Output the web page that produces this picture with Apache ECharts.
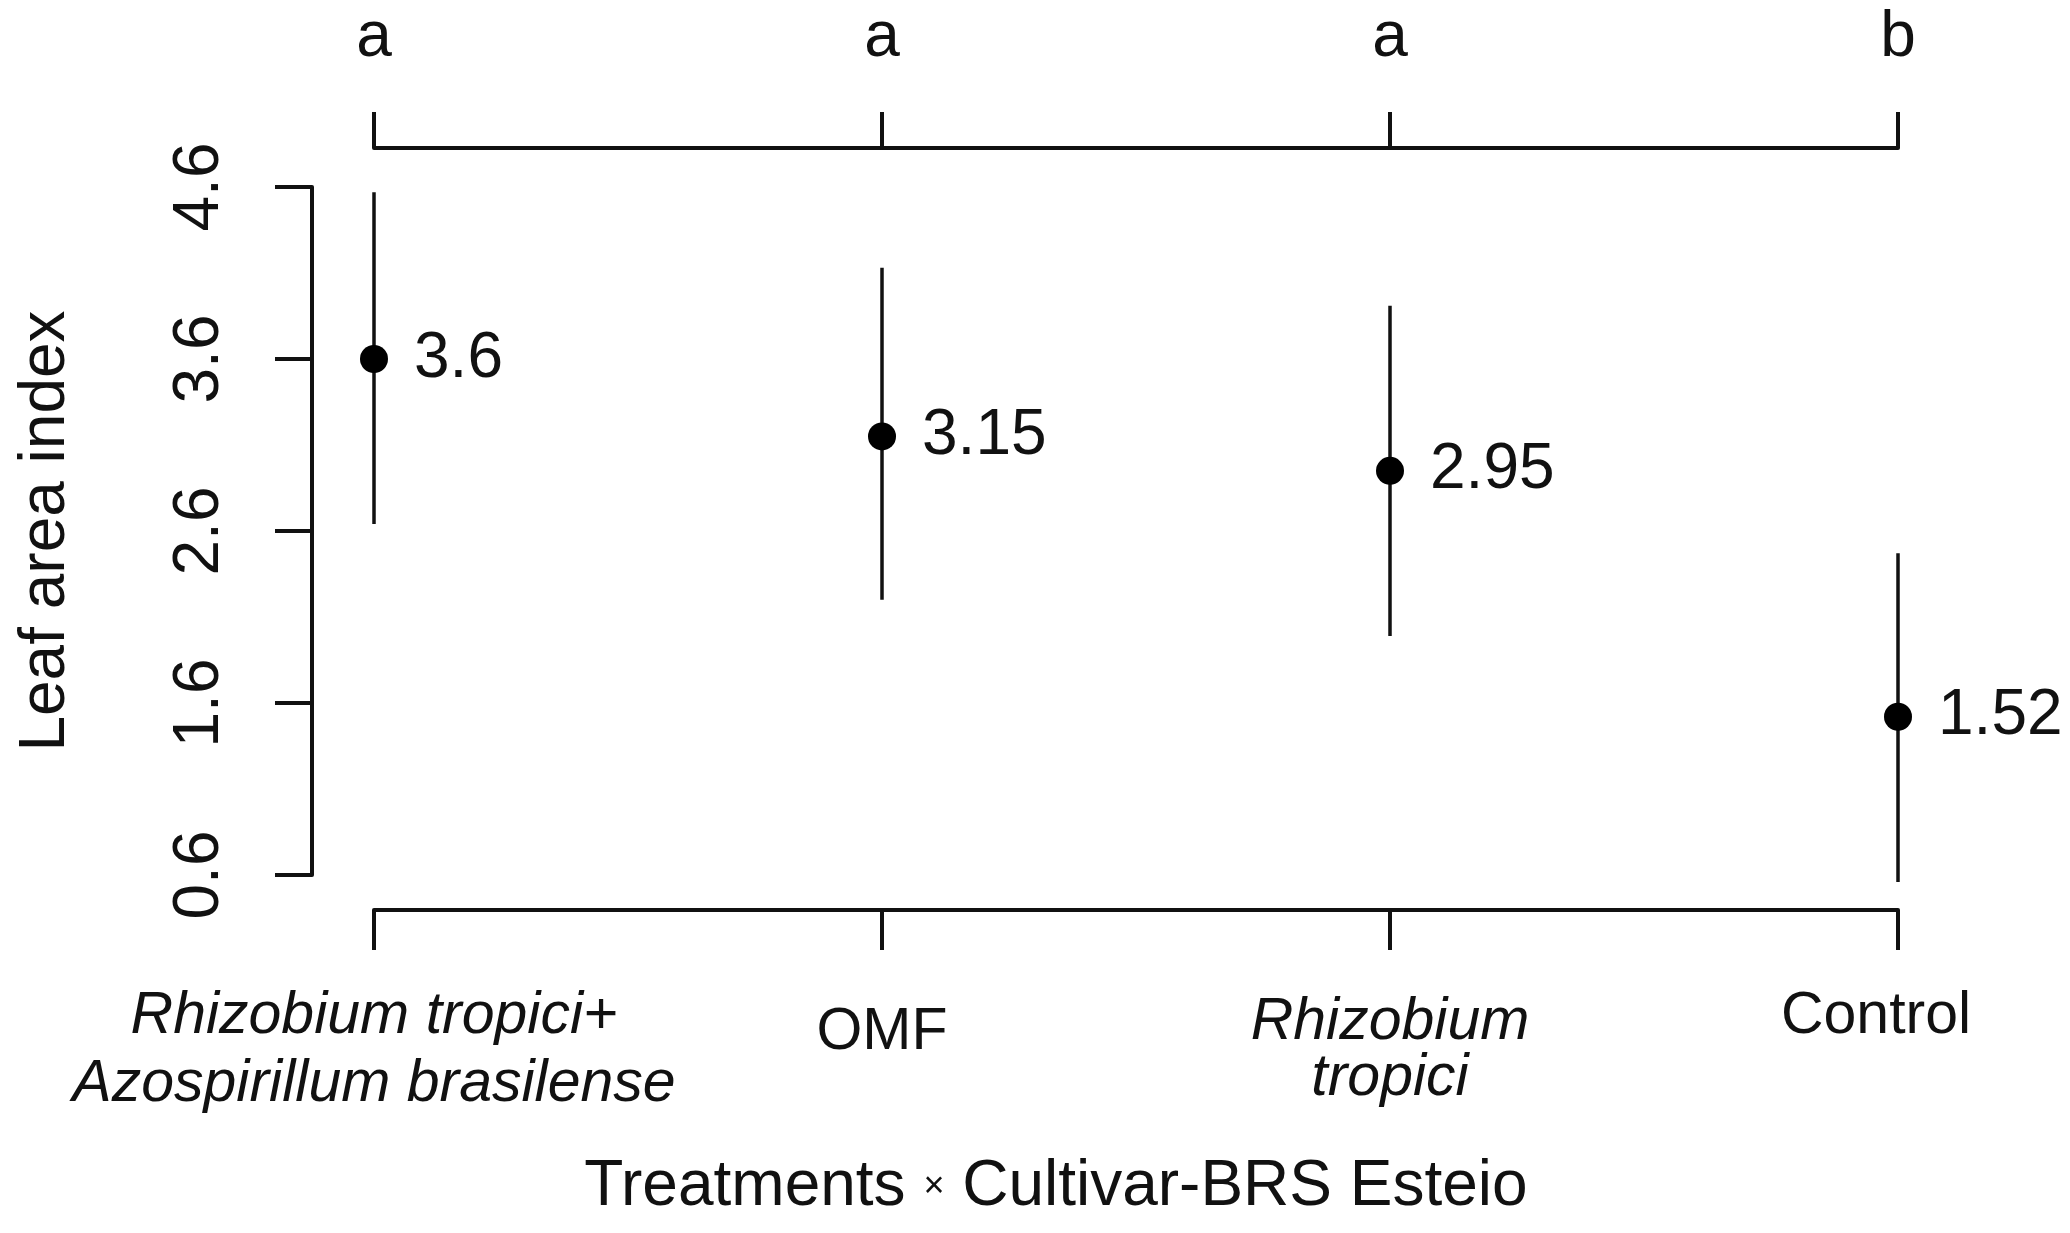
<!DOCTYPE html>
<html>
<head>
<meta charset="utf-8">
<title>Leaf area index</title>
<script src="https://cdn.jsdelivr.net/npm/echarts@6/dist/echarts.min.js"></script>
<style>
    html, body {
        margin: 0;
        padding: 0;
        background: #fff;
    }

    #chart {
        width: 2070px;
        height: 1233px;
    }
</style>
</head>
<body>
<div id="chart"></div>
<script>
// treatments on the bottom axis, letters from the mean comparison on the top axis
const treatments = ['Rhizobium tropici+\nAzospirillum brasilense', 'OMF', 'Rhizobium\ntropici', 'Control']
const letters = ['a', 'a', 'a', 'b']
const means = [3.6, 3.15, 2.95, 1.52]
const upper = [4.57, 4.13, 3.91, 2.47]
const lower = [2.64, 2.2, 1.99, 0.56]
const yTicks = { min: 0.6, max: 4.6, step: 1 }

const ink = '#111'
const font = 'Liberation Sans, Arial, sans-serif'
const fs = 64
const catFs = 59

// rich style keys, one per line of each treatment label
const lineStyles = [['t1', 't1'], ['om'], ['t3a', 't3b'], ['ct']]

const chart = echarts.init(document.getElementById('chart'))

const axisLine = { show: true, lineStyle: { color: ink, width: 4 } }

chart.setOption({
    backgroundColor: '#fff',
    animation: false,
    grid: [
        // frame for the top and bottom axes
        { left: 374, right: 172, top: 148, bottom: 323 },
        // frame for the data and the y axis
        { left: 374, right: 172, top: 187, bottom: 358 }
    ],
    xAxis: [
        {
            gridIndex: 0,
            type: 'value',
            position: 'bottom',
            min: 1,
            max: treatments.length,
            interval: 1,
            axisLine,
            axisTick: { show: true, length: 40, lineStyle: { color: ink, width: 4 } },
            splitLine: { show: false },
            axisLabel: {
                margin: 73,
                color: ink,
                fontFamily: font,
                fontSize: catFs,
                formatter: (v) => {
                    const i = Math.round(v) - 1
                    return treatments[i].split('\n').map((s, k) => '{' + lineStyles[i][k] + '|' + s + '}').join('\n')
                },
                rich: {
                    t1: { fontStyle: 'italic', fontFamily: font, fontSize: catFs, lineHeight: 68, color: ink },
                    om: { fontFamily: font, fontSize: catFs, lineHeight: 100, color: ink },
                    t3a: { fontStyle: 'italic', fontFamily: font, fontSize: catFs, lineHeight: 80, color: ink },
                    t3b: { fontStyle: 'italic', fontFamily: font, fontSize: catFs, lineHeight: 32, color: ink },
                    ct: { fontFamily: font, fontSize: catFs, lineHeight: 68, color: ink, padding: [0, 44, 0, 0] }
                }
            },
            name: '{n|Treatments }{x|×}{n| Cultivar-BRS Esteio}',
            nameLocation: 'middle',
            nameGap: 245,
            nameTextStyle: {
                color: ink,
                fontFamily: font,
                fontSize: fs,
                padding: [0, 160, 0, 0],
                rich: {
                    n: { fontFamily: font, fontSize: fs, color: ink },
                    x: { fontFamily: font, fontSize: 36, color: ink }
                }
            }
        },
        {
            gridIndex: 0,
            type: 'value',
            position: 'top',
            min: 1,
            max: letters.length,
            interval: 1,
            axisLine,
            axisTick: { show: true, length: 36, lineStyle: { color: ink, width: 4 } },
            splitLine: { show: false },
            axisLabel: {
                margin: 78,
                color: ink,
                fontFamily: font,
                fontSize: fs,
                formatter: (v) => letters[Math.round(v) - 1]
            }
        },
        {
            gridIndex: 1,
            type: 'value',
            show: false,
            min: 1,
            max: treatments.length
        }
    ],
    yAxis: [
        { gridIndex: 0, type: 'value', show: false, min: 0, max: 1 },
        {
            gridIndex: 1,
            type: 'value',
            min: yTicks.min,
            max: yTicks.max,
            interval: yTicks.step,
            offset: 62,
            axisLine,
            axisTick: { show: true, length: 37, lineStyle: { color: ink, width: 4 } },
            splitLine: { show: false },
            axisLabel: {
                rotate: 90,
                margin: 80,
                color: ink,
                fontFamily: font,
                fontSize: fs,
                formatter: (v) => v.toFixed(1)
            },
            name: 'Leaf area index',
            nameLocation: 'middle',
            nameGap: 234,
            nameTextStyle: { color: ink, fontFamily: font, fontSize: fs }
        }
    ],
    series: [
        {
            type: 'custom',
            xAxisIndex: 2,
            yAxisIndex: 1,
            clip: false,
            data: means.map((m, i) => [i + 1, lower[i], upper[i]]),
            renderItem: (params, api) => {
                const a = api.coord([api.value(0), api.value(1)])
                const b = api.coord([api.value(0), api.value(2)])
                return {
                    type: 'line',
                    shape: { x1: a[0], y1: a[1], x2: b[0], y2: b[1] },
                    style: { stroke: ink, lineWidth: 3.5 }
                }
            }
        },
        {
            type: 'scatter',
            xAxisIndex: 2,
            yAxisIndex: 1,
            clip: false,
            z: 3,
            symbol: 'circle',
            symbolSize: 28,
            itemStyle: { color: '#000', opacity: 1 },
            data: means.map((m, i) => [i + 1, m]),
            label: {
                show: true,
                position: 'right',
                distance: 26,
                color: ink,
                opacity: 1,
                fontFamily: font,
                fontSize: fs,
                formatter: (p) => String(p.value[1])
            }
        }
    ]
})

window.addEventListener('resize', () => chart.resize())
</script>
</body>
</html>
